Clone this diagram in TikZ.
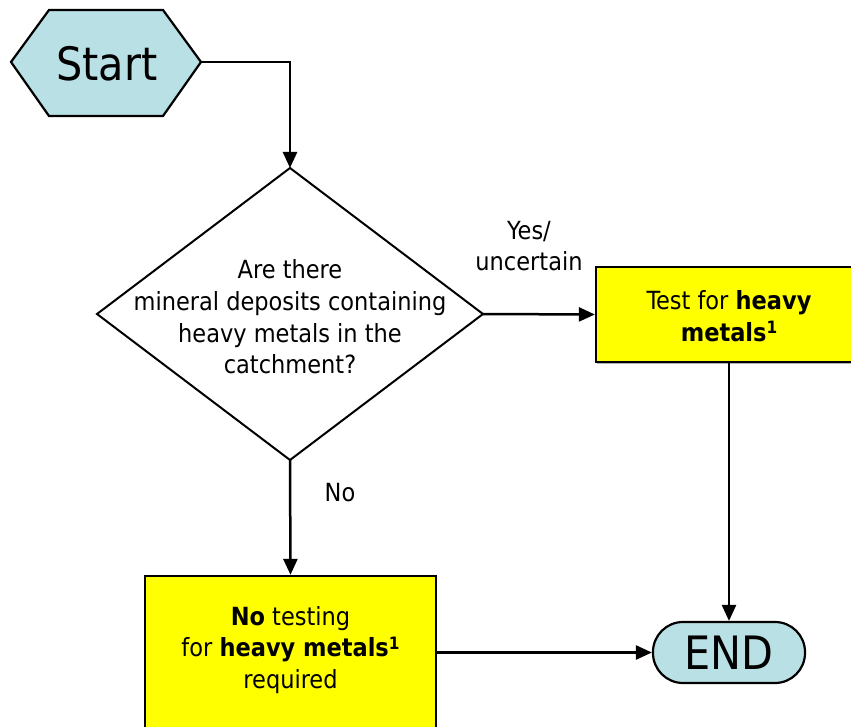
\documentclass[tikz,border=0pt]{standalone}
\usepackage{fontspec}
\setmainfont{DejaVu Sans Condensed}
\usetikzlibrary{arrows.meta,shapes.geometric,shadows}
\definecolor{termblue}{RGB}{185,224,228}
\definecolor{boxyellow}{RGB}{255,255,0}
\newcommand{\supone}{\raisebox{0.55ex}{\fontsize{17}{17}\selectfont\bfseries 1}}
\begin{document}
\begin{tikzpicture}[x=1pt,y=-1pt,
  conn/.style={line width=2.5pt,-{Triangle[length=16pt,width=14pt]}},
  txt/.style={font=\fontsize{25}{31.7}\selectfont,align=center,inner sep=0pt},
  yellowbox/.style={draw,line width=2.3pt,fill=boxyellow,inner sep=0pt,
     drop shadow={shadow xshift=1pt,shadow yshift=-2pt,fill=gray!60,opacity=1}},
  term/.style={draw,line width=2.2pt,fill=termblue}]
\useasboundingbox (0,0) rectangle (851,727);
\clip (0,0) rectangle (851,727);
% Start hexagon
\draw[term] (11,62) -- (49,10) -- (163,10) -- (201,62) -- (163,116) -- (49,116) -- cycle;
\node[inner sep=0pt,font=\fontsize{46}{50}\selectfont] (start) at (107,64) {Start};
\coordinate (startR) at (201,62);
% Decision diamond
\node[draw,diamond,line width=2pt,minimum width=386pt,minimum height=292pt,inner sep=0pt,outer sep=0pt] (q) at (290,314) {};
\node[txt] (qtext) at (290,317) {Are there\\mineral deposits containing\\heavy metals in the\\catchment?};
% Test box
\node[yellowbox,minimum width=266pt,minimum height=95pt] (test) at (729,314.5) {};
\node[txt] (testtext) at (729,316) {Test for \textbf{heavy}\\\textbf{metals\supone}};
% No testing box
\node[yellowbox,minimum width=291pt,minimum height=154pt] (notest) at (290.5,653) {};
\node[txt] (notesttext) at (290.5,650) {\textbf{No} testing\\for \textbf{heavy metals\supone}\\required};
% END terminal
\node[term,rounded corners=30pt,minimum width=152pt,minimum height=61pt,inner sep=0pt,
      font=\fontsize{46}{50}\selectfont] (end) at (729,652.5) {END};
% Labels
\node[txt] (yes) at (529,246) {Yes/\\uncertain};
\node[txt] (no) at (340,493) {No};
% Connectors
\draw[conn] (startR) -| (q.north);
\draw[conn] (q.east) -- (test.west);
\draw[conn] (q.south) -- (notest.north);
\draw[conn] (test.south) -- (end.north);
\draw[conn] (notest.east |- end.west) -- (end.west);
\end{tikzpicture}
\end{document}
